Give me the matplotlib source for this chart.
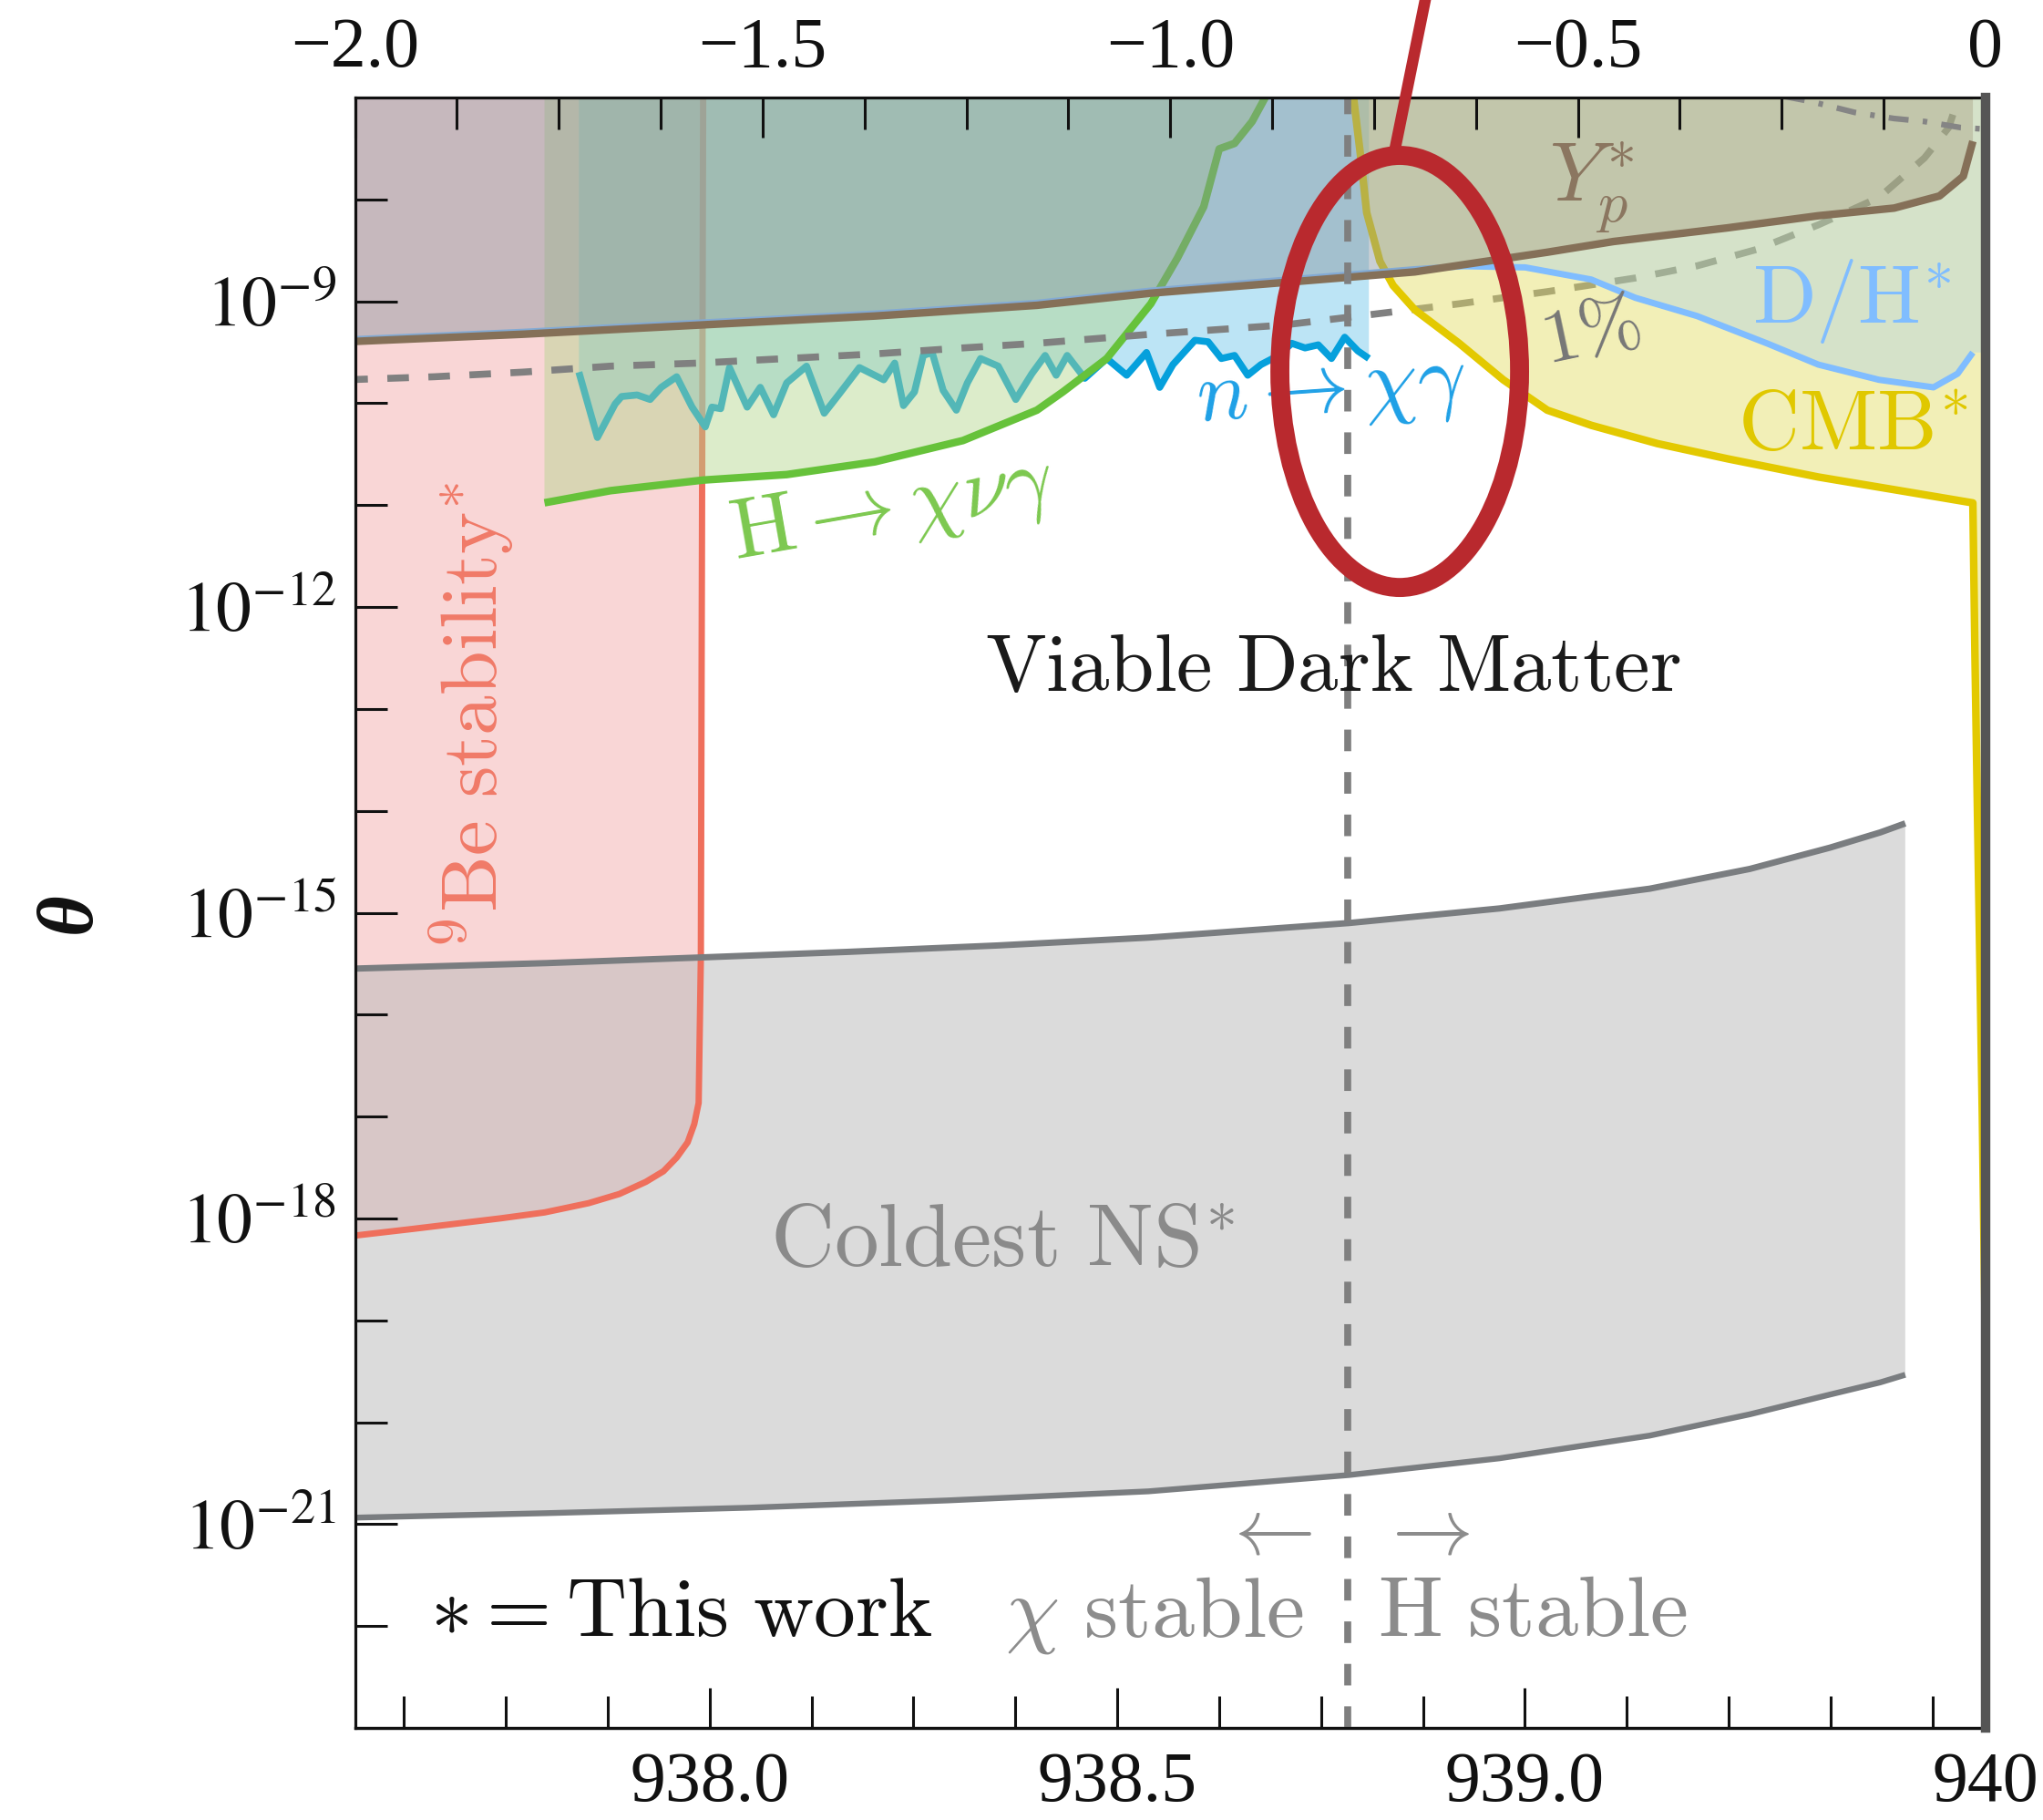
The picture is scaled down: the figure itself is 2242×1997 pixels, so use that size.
import numpy as np
import matplotlib
matplotlib.use("Agg")
import matplotlib.pyplot as plt
from matplotlib.patches import Ellipse
from matplotlib.lines import Line2D
from matplotlib.ticker import FixedLocator, FixedFormatter, NullFormatter

plt.rcParams["mathtext.fontset"] = "stix"
plt.rcParams["font.family"] = ["Liberation Serif", "DejaVu Serif"]

M_N = 939.565          # neutron mass [MeV]
M_H = 938.783          # hydrogen atom mass [MeV]
TOP = -7.0             # log10(theta) at the upper plot edge

# All boundaries: x = m_chi - m_n [MeV], y = log10(theta)
be_dm = [-2.0107, -1.9297, -1.8216, -1.7676, -1.7135, -1.6758, -1.6433, -1.6217, -1.6055,
         -1.592, -1.5839, -1.5785, -1.5758, -1.573]
be_logt = [-18.178, -18.103, -17.999, -17.941, -17.850, -17.760, -17.641, -17.537, -17.403,
           -17.253, -17.074, -16.866, -15.435, -7.0]

ns_up_dm = [-2.0, -1.7647, -1.5804, -1.3959, -1.2115, -1.027, -0.781, -0.5965, -0.412,
            -0.2892, -0.1908, -0.1293, -0.0985]
ns_up_logt = [-15.548, -15.494, -15.440, -15.384, -15.321, -15.244, -15.101, -14.958, -14.764,
              -14.570, -14.361, -14.212, -14.123]
ns_lo_dm = [-2.0, -1.7647, -1.5188, -1.2729, -1.027, -0.781, -0.5965, -0.412, -0.2892,
            -0.1908, -0.1293, -0.0985]
ns_lo_logt = [-20.936, -20.892, -20.839, -20.767, -20.678, -20.518, -20.354, -20.131, -19.922,
              -19.728, -19.609, -19.534]

nchi_dm = [-1.7254, -1.7027, -1.681, -1.673, -1.654, -1.638, -1.6244, -1.6055, -1.5866, -1.5704,
           -1.5623, -1.5515, -1.5407, -1.519, -1.5029, -1.4866, -1.4705, -1.4462, -1.4245, -1.4056,
           -1.3813, -1.3515, -1.338, -1.3273, -1.3138, -1.303, -1.2921, -1.2786, -1.2624, -1.2489,
           -1.2327, -1.2111, -1.1895, -1.1698, -1.1535, -1.14, -1.1265, -1.1049, -1.0779, -1.0535,
           -1.0292, -1.013, -0.9968, -0.9698, -0.9536, -0.9374, -0.9212, -0.905, -0.8888, -0.8672,
           -0.851, -0.8347, -0.8185, -0.8023, -0.7861, -0.7699, -0.7564]
nchi_logt = [-9.695, -10.336, -10.008, -9.934, -9.919, -9.963, -9.844, -9.740, -10.038, -10.232,
             -10.038, -10.053, -9.650, -10.038, -9.844, -10.113, -9.80, -9.636, -10.098, -9.904,
             -9.650, -9.770, -9.606, -10.023, -9.889, -9.531, -9.502, -9.874, -10.068, -9.80,
             -9.561, -9.636, -9.963, -9.710, -9.531, -9.725, -9.531, -9.755, -9.561, -9.725,
             -9.502, -9.844, -9.621, -9.382, -9.397, -9.561, -9.531, -9.725, -9.621, -9.531,
             -9.412, -9.457, -9.427, -9.561, -9.352, -9.487, -9.561]

hdec_dm = [-1.7676, -1.6866, -1.5731, -1.4705, -1.3623, -1.2543, -1.1636, -1.1318, -1.0779,
           -1.0239, -0.9914, -0.959, -0.94, -0.9212, -0.8996, -0.8834]
hdec_logt = [-10.977, -10.858, -10.754, -10.700, -10.575, -10.366, -10.068, -9.889, -9.561,
             -9.024, -8.577, -8.071, -7.504, -7.450, -7.235, -6.997]

pct_dm = [-2.0107, -1.9026, -1.7946, -1.6866, -1.5785, -1.4705, -1.3623, -1.2543, -1.1636, -1.0239,
          -0.8618, -0.7531, -0.6457, -0.5376, -0.4296, -0.354, -0.2795, -0.2051, -0.1307, -0.075,
          -0.0453, -0.0343]
pct_logt = [-9.770, -9.740, -9.695, -9.636, -9.606, -9.561, -9.516, -9.457, -9.412, -9.323,
            -9.233, -9.129, -9.024, -8.905, -8.771, -8.652, -8.488, -8.249, -7.981, -7.593,
            -7.295, -7.027]

cmb_dm = [-0.7753, -0.7672, -0.7591, -0.7429, -0.7267, -0.70, -0.6457, -0.5916, -0.5376, -0.4835,
          -0.4025, -0.3166, -0.2051, -0.0936, -0.0156, -0.013, -0.009, -0.004, 0.0]
cmb_logt = [-6.997, -7.534, -8.13, -8.607, -8.845, -9.084, -9.412, -9.770, -10.068, -10.217,
            -10.396, -10.545, -10.724, -10.873, -10.978, -12.5, -14.5, -17.0, -19.4]

dh_dm = [-2.0107, -1.7946, -1.5785, -1.3623, -1.1636, -1.0239, -0.8618, -0.70, -0.64, -0.5647,
         -0.4837, -0.4296, -0.354, -0.2683, -0.2051, -0.1307, -0.0639, -0.0343, -0.0156]
dh_logt = [-9.375, -9.30, -9.21, -9.12, -9.015, -8.895, -8.79, -8.685, -8.655, -8.667,
           -8.786, -8.965, -9.144, -9.412, -9.621, -9.770, -9.844, -9.710, -9.502]

yp_dm = [-2.0107, -1.7946, -1.5785, -1.3623, -1.1636, -1.0239, -0.8618, -0.70, -0.5376, -0.4565,
         -0.3166, -0.2051, -0.1122, -0.0565, -0.0273, -0.0156]
yp_logt = [-9.397, -9.323, -9.233, -9.144, -9.039, -8.920, -8.816, -8.711, -8.518, -8.413,
           -8.279, -8.16, -8.085, -7.966, -7.772, -7.429]

dd_dm = [-0.246, -0.2125, -0.1605, -0.1122, -0.075, -0.0304, 0.0]
dd_logt = [-6.99, -7.042, -7.146, -7.206, -7.235, -7.295, -7.31]

top_labels = ["\u22122.0", "\u22121.5", "\u22121.0", "\u22120.5", "0"]
top_ticks = [-2.0, -1.5, -1.0, -0.5, 0.0]
bottom_ticks = [938.0, 938.5, 939.0, M_N]
bottom_labels = ["938.0", "938.5", "939.0", "940"]
ytick_exp = [-21, -18, -15, -12, -9]
yminor_exp = [-22, -20, -19, -17, -16, -14, -13, -11, -10, -8]


def theta(v):
    return 10.0 ** np.asarray(v, dtype=float)


fig = plt.figure(figsize=(22.42, 19.97), dpi=100)
ax = fig.add_axes([0.17377, 0.05057, 0.79813, 0.89584])
ax.set_yscale("log")
ax.set_xlim(-2.0, 0.0)
ax.set_ylim(1e-23, 1e-7)


def region(xs, ys, color, alpha, z):
    ax.fill(xs, theta(ys), color=color, alpha=alpha, lw=0, zorder=z)


def curve(xs, ys, color, lw, z, **kw):
    ax.plot(xs, theta(ys), color=color, lw=lw, zorder=z,
            solid_capstyle="butt", solid_joinstyle="round", **kw)


# 9Be stability
region(be_dm + [-2.0107], be_logt + [TOP], "#f2a4a4", 0.45, 1.00)
# coldest neutron star
region(ns_up_dm + ns_lo_dm[::-1], ns_up_logt + ns_lo_logt[::-1], "#b9b9b9", 0.5, 1.01)
curve(be_dm, be_logt, "#ef6f5c", 5.0, 1.02)
curve(ns_up_dm, ns_up_logt, "#7a7d80", 5.0, 1.03)
curve(ns_lo_dm, ns_lo_logt, "#7a7d80", 4.6, 1.03)

# n -> chi gamma
region(nchi_dm + [nchi_dm[-1], nchi_dm[0]], nchi_logt + [TOP, TOP], "#6cc5e9", 0.45, 1.10)
curve(nchi_dm, nchi_logt, "#05a0dc", 5.5, 1.11)

# H -> chi nu gamma
region(hdec_dm + [hdec_dm[0]], hdec_logt + [hdec_logt[-1]], "#b3d58b", 0.45, 1.20)
curve(hdec_dm, hdec_logt, "#66c23a", 6.0, 1.21)

# 1% line
ax.plot(pct_dm, theta(pct_logt), color="#808080", lw=5.5, dashes=(3.1, 2.8), zorder=1.25)

# CMB
region(cmb_dm + [0.0], cmb_logt + [TOP], "#e4dd61", 0.45, 1.30)
curve(cmb_dm, cmb_logt, "#e3c900", 6.0, 1.31)

# D/H
region(dh_dm + [0.0, 0.0, dh_dm[0]], dh_logt + [dh_logt[-1], TOP, TOP], "#7fbfff", 0.25, 1.40)
curve(dh_dm, dh_logt, "#80bdff", 5.0, 1.41)

# Y_p
region(yp_dm + [yp_dm[-1], yp_dm[0]], yp_logt + [TOP, TOP], "#8c7355", 0.25, 1.50)
curve(yp_dm, yp_logt, "#857058", 6.0, 1.51)

ax.plot(dd_dm, theta(dd_logt), color="#858585", lw=4.5, dashes=(3.5, 2.5, 0.8, 2.5), zorder=1.6)

# hydrogen mass
ax.axvline(M_H - M_N, color="#7f7f7f", lw=5.5, dashes=(3.1, 3.0), zorder=1.7)


# ---- labels
def label(x, lt, s, color, size, rot=0, ha="center", va="center"):
    ax.text(x, theta(lt), s, color=color, fontsize=size, rotation=rot, ha=ha, va=va,
            rotation_mode="anchor", math_fontfamily="cm", zorder=3)


label(-0.8007, -12.821, r"$\mathrm{Viable\ Dark\ Matter}$", "#1a1a1a", 64, va="baseline")
label(-1.2056, -18.474, r"$\mathrm{Coldest\ NS}^{*}$", "#8a8a8a", 70, va="baseline")
label(-1.857, -13.06, r"${}^{9}\mathrm{Be\ stability}^{*}$", "#f07a68", 63, rot=90)
label(-1.3408, -11.056, r"$\mathrm{H}\rightarrow\chi\nu\gamma$", "#7cc84f", 68, rot=10)
label(-0.8025, -9.904, r"$n\rightarrow\chi\gamma$", "#1ea0e6", 68, rot=4)
label(-0.4837, -9.335, r"$1\%$", "#777777", 60, rot=12)
label(-0.1642, -8.995, r"$\mathrm{D/H}^{*}$", "#80bdff", 66)
label(-0.1624, -10.262, r"$\mathrm{CMB}^{*}$", "#e0c800", 67)
label(-0.4837, -7.877, r"$Y_p^{*}$", "#8b7660", 66)
label(-1.9084, -22.093, r"$*=\mathrm{This\ work}$", "#111111", 66, ha="left", va="baseline")
label(-0.836, -22.10, r"$\chi\ \mathrm{stable}$", "#8c8c8c", 68, ha="right", va="baseline")
label(-0.745, -22.10, r"$\mathrm{H\ stable}$", "#8c8c8c", 68, ha="left", va="baseline")
label(-0.882, -21.105, r"$\leftarrow$", "#8c8c8c", 64)
label(-0.689, -21.105, r"$\rightarrow$", "#8c8c8c", 64)

ax.text(-0.174, 0.5, "\u03b8", transform=ax.transAxes, rotation=90, ha="center", va="center",
        fontsize=62, fontstyle="italic", fontweight="bold", color="#111111")

# ---- axes
ax.xaxis.tick_top()
ax.xaxis.set_major_locator(FixedLocator(top_ticks))
ax.xaxis.set_major_formatter(FixedFormatter(top_labels))
ax.xaxis.set_minor_locator(FixedLocator(np.arange(-1.875, 0.0, 0.125)))
ax.tick_params(axis="x", which="both", direction="in", top=True, bottom=False,
               labeltop=True, labelbottom=False, width=2.2, pad=12, labelsize=56, colors="#111111")
ax.tick_params(axis="x", which="major", length=32)
ax.tick_params(axis="x", which="minor", length=25)

ax.yaxis.set_major_locator(FixedLocator(theta(ytick_exp)))
ax.yaxis.set_major_formatter(FixedFormatter([r"$10^{%d}$" % e for e in ytick_exp]))
ax.yaxis.set_minor_locator(FixedLocator(theta(yminor_exp)))
ax.yaxis.set_minor_formatter(NullFormatter())
ax.tick_params(axis="y", which="both", direction="in", left=True, right=False,
               width=2.2, pad=15, labelsize=56, colors="#111111")
ax.tick_params(axis="y", which="major", length=33)
ax.tick_params(axis="y", which="minor", length=25)

sec = ax.secondary_xaxis("bottom", functions=(lambda d: d + M_N, lambda m: m - M_N))
sec.set_xticks(bottom_ticks)
sec.set_xticklabels(bottom_labels)
sec.xaxis.set_minor_locator(FixedLocator(np.arange(937.625, 939.55, 0.125)))
sec.tick_params(which="both", direction="in", width=2.2, pad=18, labelsize=56, colors="#111111")
sec.tick_params(which="major", length=32)
sec.tick_params(which="minor", length=25)
sec.spines["bottom"].set_linewidth(2.3)

for s in ("left", "top", "bottom"):
    ax.spines[s].set_linewidth(2.3)
    ax.spines[s].set_color("#111111")
ax.spines["right"].set_color("#555555")
ax.spines["right"].set_linewidth(7.5)
ax.spines["right"].set_zorder(10)

# ---- highlighted region
ax.add_patch(Ellipse((0.6407, 0.832), 0.147, 0.265, transform=ax.transAxes, fill=False,
                     edgecolor="#b9292e", lw=15, clip_on=False, zorder=20))
ax.add_line(Line2D([0.6373, 0.6584], [0.9659, 1.07], transform=ax.transAxes,
                   color="#b9292e", lw=9, clip_on=False, zorder=20))

fig.savefig("out.png", dpi=100)
